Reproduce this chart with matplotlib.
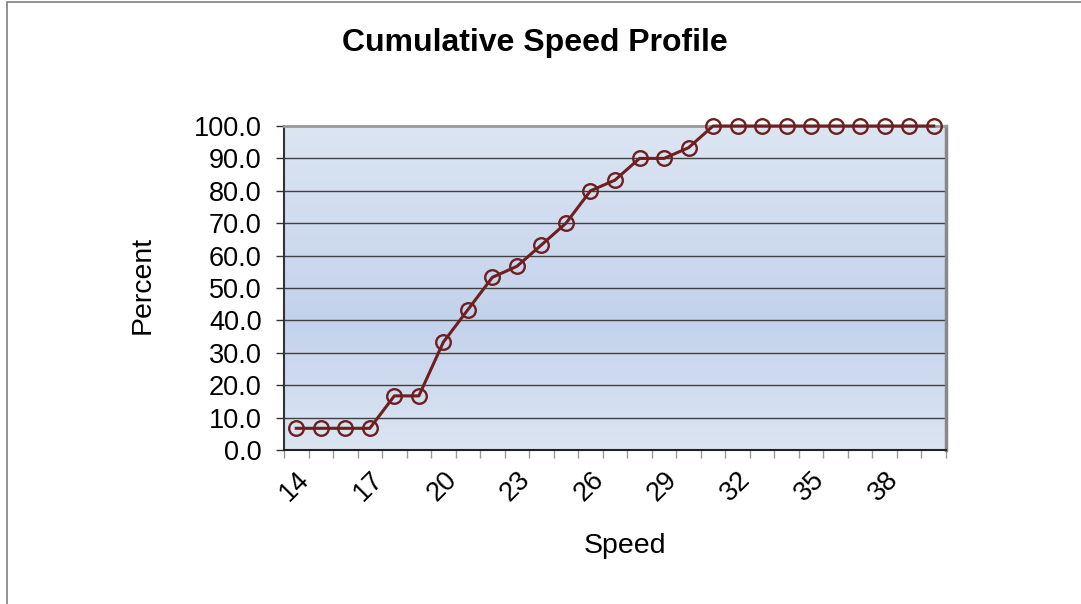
import numpy as np
import matplotlib.pyplot as plt
from matplotlib.patches import Rectangle
from matplotlib.ticker import FormatStrFormatter

plt.rcParams['font.family'] = ['Liberation Sans', 'DejaVu Sans']

speeds = list(range(14, 41))
percent = [6.7, 6.7, 6.7, 6.7, 16.7, 16.7, 33.3, 43.3, 53.3, 56.7, 63.3, 70.0, 80.0, 83.3,
           90.0, 90.0, 93.3, 100.0, 100.0, 100.0, 100.0, 100.0, 100.0, 100.0, 100.0, 100.0, 100.0]
tick_speeds = [14, 17, 20, 23, 26, 29, 32, 35, 38]

line_color = '#6e1f1f'

fig = plt.figure(figsize=(10.81, 6.04), dpi=100)
fig.patches.append(Rectangle((7 / 1081, -0.1), 1.2, 1.1 - 2 / 604, transform=fig.transFigure,
                             fill=False, edgecolor='#7f7f7f', linewidth=1.2))

ax = fig.add_axes([284 / 1081, (604 - 450) / 604, 662 / 1081, 324 / 604])

x = np.arange(len(speeds))
ax.set_xlim(-0.5, len(speeds) - 0.5)
ax.set_ylim(0, 100)

# gradient background: light at top and bottom, darker in the middle
grad = np.concatenate([np.linspace(0, 1, 60), np.linspace(1, 0, 40)])
top = np.array([0.863, 0.898, 0.949])
mid = np.array([0.765, 0.824, 0.925])
img = top[None, :] * (1 - grad[:, None]) + mid[None, :] * grad[:, None]
ax.imshow(img[:, None, :], extent=(-0.5, len(speeds) - 0.5, 0, 100), aspect='auto',
          origin='upper', zorder=0)

for yv in range(10, 100, 10):
    ax.axhline(yv, color='#404040', linewidth=1, zorder=1)

ax.plot(x, percent, color=line_color, linewidth=2.2, marker='o', markersize=10.5,
        markerfacecolor='none', markeredgecolor=line_color, markeredgewidth=1.7,
        zorder=3, clip_on=False)

ax.set_yticks(range(0, 101, 10))
ax.yaxis.set_major_formatter(FormatStrFormatter('%.1f'))
ax.tick_params(axis='y', direction='out', length=6, width=1, color='#333333',
               labelsize=19.5, pad=10)

ax.set_xticks([speeds.index(s) for s in tick_speeds])
ax.set_xticklabels([str(s) for s in tick_speeds], rotation=45, ha='right',
                   rotation_mode='anchor')
ax.set_xticks(np.arange(-0.5, len(speeds)), minor=True)
ax.tick_params(axis='x', which='major', length=0, labelsize=19.5, pad=12)
ax.tick_params(axis='x', which='minor', direction='out', length=6, width=1, color='#999999')

ax.spines['left'].set_color('#333333')
ax.spines['left'].set_linewidth(1.5)
ax.spines['bottom'].set_color('#222222')
ax.spines['bottom'].set_linewidth(1.5)
ax.spines['top'].set_color('#999999')
ax.spines['top'].set_linewidth(2)
ax.spines['right'].set_color('#888888')
ax.spines['right'].set_linewidth(2.5)

fig.text(535 / 1081, 1 - 43 / 604, 'Cumulative Speed Profile', ha='center', va='center',
         fontsize=23, fontweight='bold')
fig.text(625 / 1081, 1 - 546 / 604, 'Speed', ha='center', va='center', fontsize=20.5)
fig.text(143 / 1081, 1 - 285 / 604, 'Percent', ha='center', va='center', fontsize=20.5,
         rotation=90)

plt.savefig('out.png', dpi=100)
